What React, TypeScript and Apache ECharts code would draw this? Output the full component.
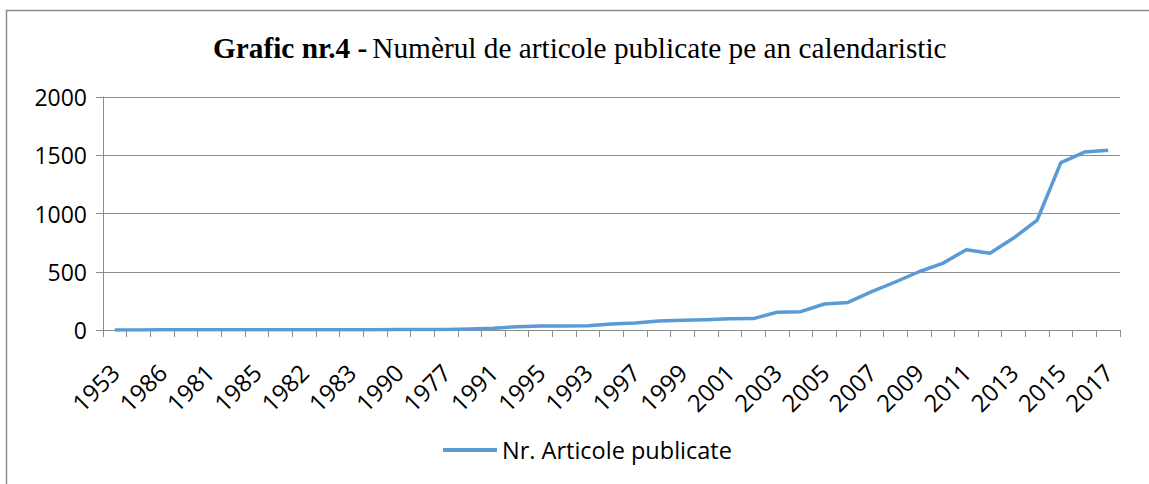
import React, { useEffect, useRef } from "react";
import * as echarts from "echarts";

const years: string[] = [
  "1953", "1970", "1986", "1979", "1981", "1984", "1985", "1987", "1982", "1980",
  "1983", "1988", "1990", "1975", "1977", "1989", "1991", "1992", "1995", "1994",
  "1993", "1996", "1997", "1998", "1999", "2000", "2001", "2002", "2003", "2004",
  "2005", "2006", "2007", "2008", "2009", "2010", "2011", "2012", "2013", "2014",
  "2015", "2016", "2017",
];

const articles: number[] = [
  1, 1, 2, 2, 2, 2, 2, 2, 2, 3,
  3, 3, 4, 4, 5, 8, 14, 28, 34, 35,
  37, 51, 60, 77, 83, 89, 97, 98, 152, 157,
  223, 237, 329, 412, 500, 572, 689, 658, 789, 944,
  1436, 1527, 1542,
];

const yTicks = { min: 0, max: 2000, interval: 500 };
const seriesName = "Nr. Articole publicate";

export default function App() {
  const ref = useRef<HTMLDivElement>(null);
  useEffect(() => {
    if (!ref.current) return;
    const chart = echarts.init(ref.current, null, { renderer: "svg" });
    const axisFont = { fontFamily: "Open Sans", fontSize: 23, color: "#000" };
    chart.setOption({
      animation: false,
      backgroundColor: "#fff",
      title: {
        left: 208,
        top: 28,
        text: "{b|Grafic nr.4 -} {r|Numèrul de articole publicate pe an calendaristic}",
        textStyle: {
          rich: {
            b: { fontFamily: "Liberation Serif", fontWeight: "bold", fontSize: 29.3, color: "#000" },
            r: { fontFamily: "Liberation Serif", fontWeight: "normal", fontSize: 29.3, color: "#000" },
          },
        },
      },
      legend: {
        left: 438,
        top: 433,
        itemWidth: 54,
        itemHeight: 4,
        itemGap: 6,
        icon: "rect",
        textStyle: { fontFamily: "Open Sans", fontSize: 23.5, color: "#000", padding: [0, 0, 0, 0] },
        data: [seriesName],
      },
      grid: { left: 103, right: 29, top: 97, bottom: 154, containLabel: false, outerBoundsMode: "none" },
      xAxis: {
        type: "category",
        data: years,
        boundaryGap: true,
        axisLine: { show: true, lineStyle: { color: "#8c8c8c", width: 1 } },
        axisTick: { show: true, interval: 0, length: 7, lineStyle: { color: "#8c8c8c" } },
        axisLabel: { ...axisFont, fontSize: 24, interval: 1, rotate: 45, margin: 38 },
        splitLine: { show: false },
      },
      yAxis: {
        type: "value",
        min: yTicks.min,
        max: yTicks.max,
        interval: yTicks.interval,
        axisLine: { show: true, lineStyle: { color: "#8c8c8c", width: 1 } },
        axisTick: { show: true, length: 7, lineStyle: { color: "#8c8c8c" } },
        axisLabel: { ...axisFont, margin: 16, formatter: (v: number) => String(v) },
        splitLine: { show: true, lineStyle: { color: "#8c8c8c", width: 1 } },
      },
      series: [
        {
          name: seriesName,
          type: "line",
          data: articles,
          symbol: "none",
          lineStyle: { color: "#5B9BD5", width: 3.5, join: "round" },
          itemStyle: { color: "#5B9BD5" },
        },
      ],
      graphic: [
        {
          type: "line",
          shape: { x1: 6, y1: 10.5, x2: 1149, y2: 10.5 },
          style: { stroke: "#8c8c8c", lineWidth: 1.5 },
        },
        {
          type: "line",
          shape: { x1: 6.5, y1: 10, x2: 6.5, y2: 484 },
          style: { stroke: "#8c8c8c", lineWidth: 1.5 },
        },
      ],
    });
    return () => chart.dispose();
  }, []);
  return <div ref={ref} style={{ width: 1149, height: 484, position: "absolute", left: 0, top: 0 }} />;
}
